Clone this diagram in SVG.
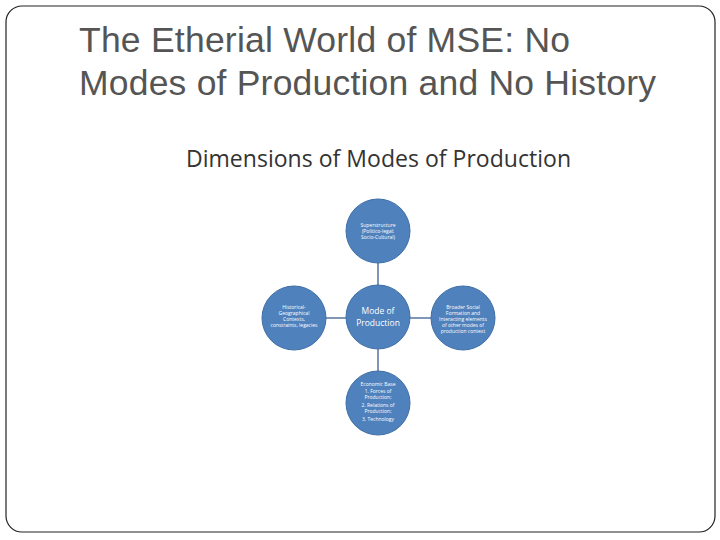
<svg xmlns="http://www.w3.org/2000/svg" width="720" height="540" viewBox="0 0 720 540">
<style>
.c{fill:#4f81bd;stroke:#3f6fa5;stroke-width:1}
.s{font-family:"Open Sans","Liberation Sans",sans-serif;font-size:5px;fill:#fff;text-anchor:middle}
.m{font-family:"Open Sans","Liberation Sans",sans-serif;font-size:8.5px;fill:#fff;text-anchor:middle}
.l{stroke:#7f96b5;stroke-width:2}
</style>
<rect width="720" height="540" fill="#fff"/>
<rect x="6" y="6" width="709" height="526" rx="16" fill="none" stroke="#222" stroke-width="1.2"/>
<text x="79" y="52" font-family="Liberation Sans,sans-serif" font-size="35.5" fill="#555" textLength="491">The Etherial World of MSE: No</text>
<text x="79" y="95" font-family="Liberation Sans,sans-serif" font-size="35.5" fill="#555" textLength="577">Modes of Production and No History</text>
<text x="186" y="167" font-family="Open Sans,Liberation Sans,sans-serif" font-size="23" fill="#333" textLength="385">Dimensions of Modes of Production</text>
<g id="connectors">
<line class="l" x1="378" y1="263" x2="378" y2="285"/>
<line class="l" x1="378" y1="349" x2="378" y2="371"/>
<line class="l" x1="326" y1="318" x2="346" y2="318"/>
<line class="l" x1="410" y1="318" x2="431" y2="318"/>
</g>
<g id="top"><circle class="c" cx="378" cy="231" r="32"/>
<text class="s" x="378" y="227">Superstructure</text><text class="s" x="378" y="233">(Politico-legal;</text><text class="s" x="378" y="239">Socio-Cultural)</text></g>
<g id="center"><circle class="c" cx="378" cy="317" r="32"/>
<text class="m" x="378" y="314">Mode of</text><text class="m" x="378" y="326">Production</text></g>
<g id="left"><circle class="c" cx="294" cy="318" r="32"/>
<text class="s" x="294" y="309">Historical-</text><text class="s" x="294" y="315">Geographical</text><text class="s" x="294" y="321">Contexts,</text><text class="s" x="294" y="327">constraints, legacies</text></g>
<g id="right"><circle class="c" cx="463" cy="318" r="32"/>
<text class="s" x="463" y="309">Broader Social</text><text class="s" x="463" y="315">Formation and</text><text class="s" x="463" y="321">Interacting elements</text><text class="s" x="463" y="327">of other modes of</text><text class="s" x="463" y="333">production context</text></g>
<g id="bottom"><circle class="c" cx="378" cy="403" r="32"/>
<text class="s" x="378" y="386">Economic Base</text><text class="s" x="378" y="393">1. Forces of</text><text class="s" x="378" y="399">Production;</text><text class="s" x="378" y="407">2. Relations of</text><text class="s" x="378" y="413">Production;</text><text class="s" x="378" y="421">3. Technology</text></g>
</svg>
